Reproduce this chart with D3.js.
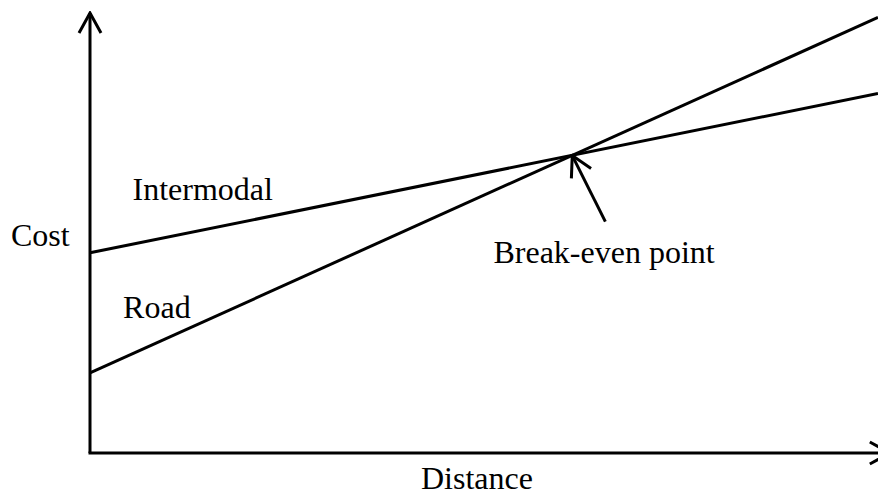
<!DOCTYPE html>
<html>
<head>
<meta charset="utf-8">
<script src="https://cdn.jsdelivr.net/npm/d3@7"></script>
<style>
    html, body { margin: 0; padding: 0; background: #fff; }
    svg { display: block; }
    text { font-family: "Liberation Serif", "Times New Roman", serif; font-size: 32px; fill: #000; }
</style>
</head>
<body>
<div id="app"></div>
<script>
// distance / cost in arbitrary units (no ticks on the original)
const intermodal = [[0, 45.5], [100, 81.7]];
const road = [[0, 18.2], [100, 99.0]];
const breakEven = [61.2, 67.6];

const labels = [
    { text: "Intermodal", at: [5.4, 57.5] },
    { text: "Road", at: [4.2, 30.7] },
    { text: "Break-even point", at: [51.2, 43.2] }
];

const width = 878;
const height = 497;

const svg = d3.select("#app")
    .append("svg")
    .attr("width", width)
    .attr("height", height);

const x = d3.scaleLinear().domain([0, 100]).range([90, 878]);
const y = d3.scaleLinear().domain([0, 100]).range([453, 13]);

// open arrowhead used by both axes and the pointer
svg.append("defs").append("marker")
    .attr("id", "arrow")
    .attr("markerUnits", "userSpaceOnUse")
    .attr("viewBox", "-22 -13 24 26")
    .attr("refX", 0)
    .attr("refY", 0)
    .attr("markerWidth", 24)
    .attr("markerHeight", 26)
    .attr("orient", "auto")
    .append("path")
    .attr("d", "M-20,-11L0,0L-20,11")
    .attr("fill", "none")
    .attr("stroke", "#000")
    .attr("stroke-width", 3);

// axes
svg.append("line")
    .attr("x1", x(0)).attr("y1", y(0))
    .attr("x2", x(0)).attr("y2", y(100))
    .attr("stroke", "#000").attr("stroke-width", 3)
    .attr("marker-end", "url(#arrow)");

svg.append("line")
    .attr("x1", x(0) - 1.5).attr("y1", y(0))
    .attr("x2", x(101.5)).attr("y2", y(0))
    .attr("stroke", "#000").attr("stroke-width", 3)
    .attr("marker-end", "url(#arrow)");

// cost lines
const line = d3.line()
    .x(d => x(d[0]))
    .y(d => y(d[1]));

for (const series of [intermodal, road]) {
    svg.append("path")
        .datum(series)
        .attr("fill", "none")
        .attr("stroke", "#000")
        .attr("stroke-width", 3)
        .attr("d", line);
}

// pointer to the break-even point
svg.append("line")
    .attr("x1", x(breakEven[0] + 4.2)).attr("y1", y(breakEven[1] - 15))
    .attr("x2", x(breakEven[0])).attr("y2", y(breakEven[1]))
    .attr("stroke", "#000").attr("stroke-width", 3)
    .attr("marker-end", "url(#arrow)");

// labels
svg.selectAll("text.label")
    .data(labels)
    .enter()
    .append("text")
    .attr("class", "label")
    .attr("x", d => x(d.at[0]))
    .attr("y", d => y(d.at[1]))
    .text(d => d.text);

svg.append("text")
    .attr("x", 11)
    .attr("y", 246)
    .text("Cost");

svg.append("text")
    .attr("x", 421)
    .attr("y", 489)
    .text("Distance");
</script>
</body>
</html>
